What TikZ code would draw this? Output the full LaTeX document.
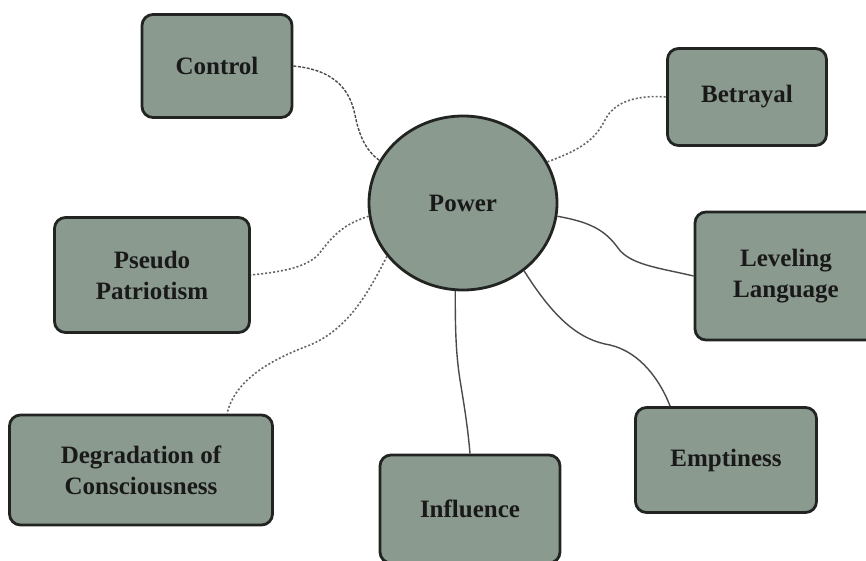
\documentclass[tikz,border=0pt]{standalone}
\usepackage{fontspec}
\setmainfont{Liberation Serif}
\usetikzlibrary{shapes.geometric,calc}
\definecolor{boxfill}{HTML}{8A9A8F}
\definecolor{boxline}{HTML}{222422}
\definecolor{linkgray}{HTML}{4A4A4A}
\tikzset{
  topic/.style={draw=boxline, line width=2.8pt, fill=boxfill, rounded corners=11pt,
    align=center, inner sep=0pt, font=\bfseries\fontsize{25}{31}\selectfont, text=black!90},
  hub/.style={ellipse, draw=boxline, line width=2.8pt, fill=boxfill, inner sep=0pt,
    minimum width=188pt, minimum height=174pt, font=\bfseries\fontsize{25}{31}\selectfont, text=black!90},
  solidlink/.style={draw=linkgray, line width=1.4pt},
  dashlink/.style={draw=linkgray, line width=1.4pt, dash pattern=on 3pt off 1.5pt},
  dotlink/.style={draw=linkgray!85, line width=1.6pt, dash pattern=on 2pt off 2pt}
}
\begin{document}
\begin{tikzpicture}[x=1pt,y=-1pt]
\useasboundingbox (0,0) rectangle (866,560);
\node[hub] (power) at (463,203) {Power};
\node[topic, minimum width=150pt, minimum height=103pt] (ctrl) at (217,66) {Control};
\node[topic, minimum width=159pt, minimum height=97pt] (bet) at (747,97) {Betrayal};
\node[topic, minimum width=195pt, minimum height=115pt] (pseudo) at (152,275) {Pseudo\\Patriotism};
\node[topic, minimum width=182pt, minimum height=128pt] (lev) at (786,276) {Leveling\\Language};
\node[topic, minimum width=263pt, minimum height=110pt] (deg) at (141,470) {Degradation of\\Consciousness};
\node[topic, minimum width=180pt, minimum height=108pt] (infl) at (470,509) {Influence};
\node[topic, minimum width=181pt, minimum height=105pt] (empt) at (726,460) {Emptiness};

\draw[dashlink] (ctrl.east) .. controls (335,70) and (350,90) .. (355,115)
  .. controls (360,140) and (368,152) .. (power.153);
\draw[dotlink] (power.26) .. controls (580,150) and (595,140) .. (605,120)
  .. controls (615,100) and (640,95) .. (bet.west);
\draw[solidlink] (power.-8) .. controls (590,222) and (605,230) .. (618,248)
  .. controls (630,265) and (660,268) .. (lev.west);
\draw[solidlink] (power.-48) .. controls (555,320) and (580,340) .. (610,345)
  .. controls (640,352) and (660,380) .. ($(empt.north west)+(36,0)$);
\draw[solidlink] (power.-95) .. controls (455,340) and (457,360) .. (460,380)
  .. controls (465,410) and (468,430) .. (infl.north);
\draw[dotlink] (power.215) .. controls (365,300) and (345,330) .. (310,345)
  .. controls (270,360) and (235,380) .. ($(deg.north)+(86,0)$);
\draw[dotlink] (power.188) .. controls (340,225) and (330,240) .. (318,255)
  .. controls (305,268) and (280,272) .. (pseudo.east);
\end{tikzpicture}
\end{document}
